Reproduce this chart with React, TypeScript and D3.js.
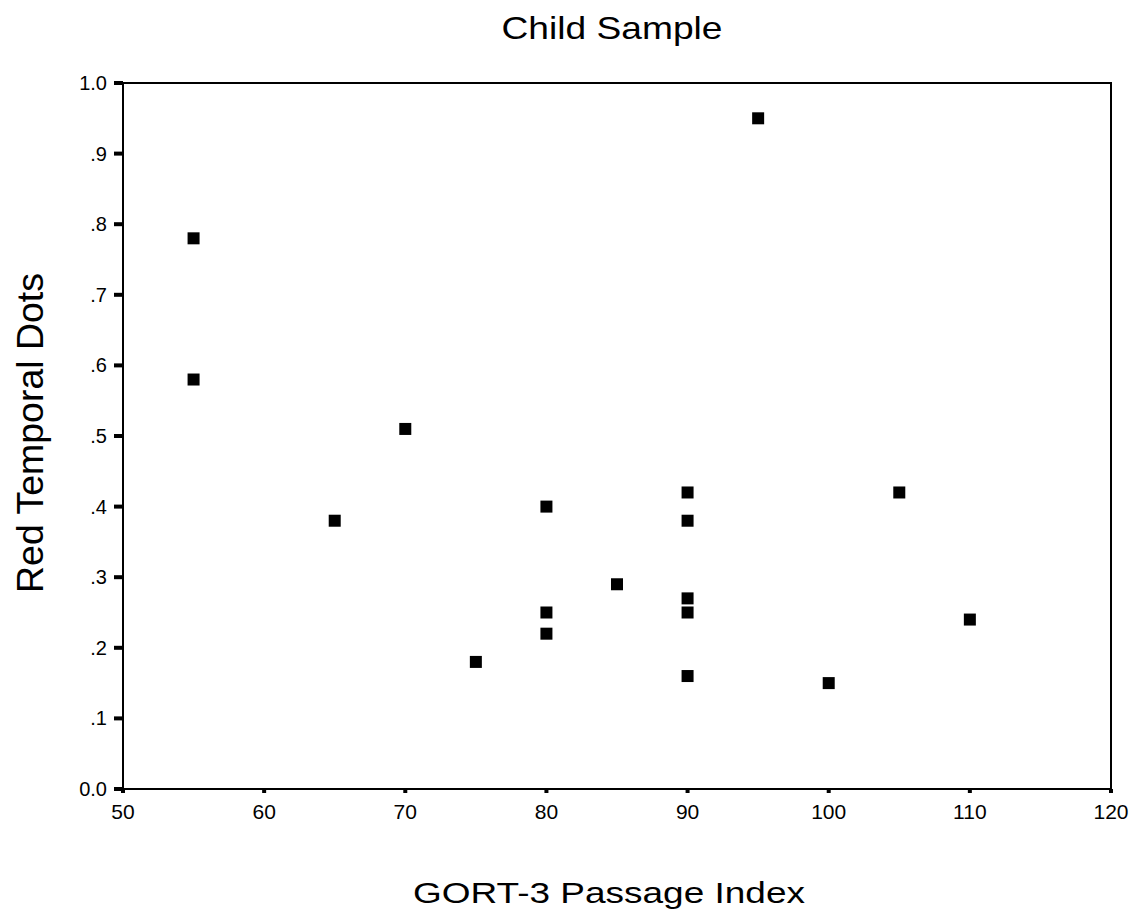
import { useMemo } from "react";
import * as d3 from "d3";

const WIDTH = 1133;
const HEIGHT = 922;
// plot frame edges in page pixels
const MARGIN = { top: 83, right: 22, bottom: 133, left: 123 };

const gortIndex = [55, 55, 65, 70, 75, 80, 80, 80, 85, 90, 90, 90, 90, 90, 95, 100, 105, 110];
const redDots = [0.78, 0.58, 0.38, 0.51, 0.18, 0.40, 0.25, 0.22, 0.29, 0.42, 0.38, 0.27, 0.25, 0.16, 0.95, 0.15, 0.42, 0.24];

const xTicks = [50, 60, 70, 80, 90, 100, 110, 120];
const yTicks = [0, 0.1, 0.2, 0.3, 0.4, 0.5, 0.6, 0.7, 0.8, 0.9, 1.0];
const yTickLabels = ["0.0", ".1", ".2", ".3", ".4", ".5", ".6", ".7", ".8", ".9", "1.0"];

const FONT = "Arial, 'Liberation Sans', sans-serif";
const MARK = 12;

export default function App() {
  const boundsWidth = WIDTH - MARGIN.left - MARGIN.right;
  const boundsHeight = HEIGHT - MARGIN.top - MARGIN.bottom;

  const xScale = useMemo(
    () => d3.scaleLinear().domain([50, 120]).range([0, boundsWidth]),
    [boundsWidth]
  );
  const yScale = useMemo(
    () => d3.scaleLinear().domain([0, 1]).range([boundsHeight, 0]),
    [boundsHeight]
  );

  const points = gortIndex.map((x, i) => ({ x, y: redDots[i] }));

  return (
    <svg
      width={WIDTH}
      height={HEIGHT}
      style={{ position: "absolute", left: 0, top: 0, background: "#fff" }}
      fontFamily={FONT}
    >
      <text
        x={612}
        y={39}
        textAnchor="middle"
        fontSize={32}
        textLength={221}
        lengthAdjust="spacingAndGlyphs"
      >
        Child Sample
      </text>

      <g transform={`translate(${MARGIN.left},${MARGIN.top})`}>
        {/* frame */}
        <rect
          x={0}
          y={0}
          width={boundsWidth}
          height={boundsHeight}
          fill="none"
          stroke="#000"
          strokeWidth={2}
        />

        {/* y axis ticks */}
        {yTicks.map((t, i) => (
          <g key={i}>
            <rect x={-9} y={yScale(t) - 2} width={9} height={4} fill="#000" />
            <text
              x={-16}
              y={yScale(t)}
              textAnchor="end"
              dominantBaseline="central"
              fontSize={20}
            >
              {yTickLabels[i]}
            </text>
          </g>
        ))}

        {/* x axis ticks */}
        {xTicks.map((t, i) => (
          <g key={i}>
            <rect x={xScale(t) - 2} y={boundsHeight} width={4} height={4} fill="#000" />
            <text
              x={xScale(t)}
              y={boundsHeight + 30}
              textAnchor="middle"
              fontSize={21}
            >
              {t}
            </text>
          </g>
        ))}

        {/* points */}
        {points.map((d, i) => (
          <rect
            key={i}
            x={xScale(d.x) - MARK / 2}
            y={yScale(d.y) - MARK / 2}
            width={MARK}
            height={MARK}
            fill="#000"
          />
        ))}
      </g>

      <text
        transform={`translate(43,433) rotate(-90)`}
        textAnchor="middle"
        fontSize={36}
        textLength={320}
        lengthAdjust="spacingAndGlyphs"
      >
        Red Temporal Dots
      </text>
      <text
        x={609}
        y={903}
        textAnchor="middle"
        fontSize={30}
        textLength={392}
        lengthAdjust="spacingAndGlyphs"
      >
        GORT-3 Passage Index
      </text>
    </svg>
  );
}
